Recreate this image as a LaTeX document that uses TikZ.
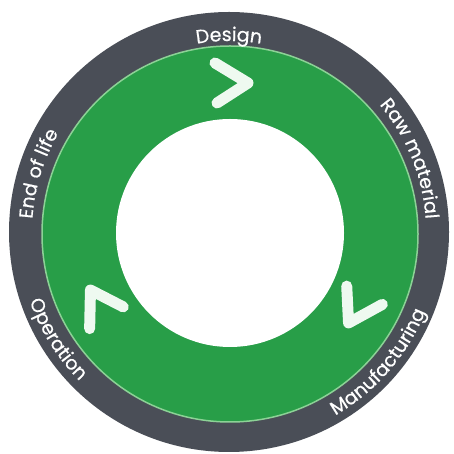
\documentclass[tikz,border=0pt]{standalone}
\usepackage{fontspec}
\newfontfamily\labfont{Poppins}[FakeBold=0.6]
\usetikzlibrary{decorations.text}
\definecolor{ringgray}{RGB}{74,78,87}
\definecolor{ringgreen}{RGB}{40,158,72}
\definecolor{edgegreen}{RGB}{140,210,150}
\definecolor{chev}{RGB}{238,249,240}
\begin{document}
\begin{tikzpicture}[x=1pt,y=1pt,
  chevron/.style={draw=chev, line width=11pt, line cap=round, line join=round},
  ringlabel/.style={decorate, decoration={text along path, text align=center,
    text={|\labfont\fontsize{19}{19}\selectfont\color{white}|#1}}}]
\useasboundingbox (0,0) rectangle (454,454);
\coordinate (c) at (229,222);
\node[circle, fill=ringgray, minimum size=440pt, inner sep=0pt] (outer) at (c) {};
\node[circle, fill=ringgreen, draw=edgegreen, line width=1.5pt, minimum size=376pt, inner sep=0pt] (green) at (230,220) {};
\node[circle, fill=white, minimum size=228pt, inner sep=0pt] (hole) at (230,221) {};
\foreach \a in {0,-120,120}
  \draw[chevron, rotate around={\a:(c)}] (215,391) -- (248,371) -- (217,351);
\path[ringlabel=Design] (c) ++(130:191) arc[start angle=130, end angle=50, radius=191];
\path[ringlabel=Raw material] (c) ++(67:197) arc[start angle=67, end angle=-23, radius=197];
\path[ringlabel=End of life] (c) ++(208:197) arc[start angle=208, end angle=118, radius=197];
\path[ringlabel=Operation] (c) ++(167:211) arc[start angle=167, end angle=257, radius=211];
\path[ringlabel=Manufacturing] (c) ++(-91:212) arc[start angle=-91, end angle=9, radius=212];
\end{tikzpicture}
\end{document}
